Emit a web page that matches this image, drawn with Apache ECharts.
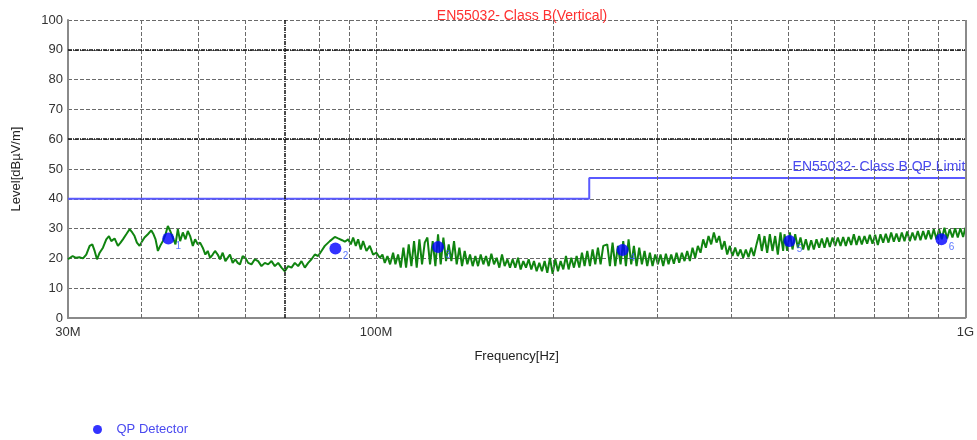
<!DOCTYPE html>
<html><head><meta charset="utf-8">
<script src="https://cdn.jsdelivr.net/npm/echarts@6/dist/echarts.min.js"></script>
<style>html,body{margin:0;padding:0;background:#fff}#c{width:977px;height:440px}</style>
</head><body><div id="c"></div>
<script>
const titleText = 'EN55032- Class B(Vertical)';
const limitName = 'EN55032- Class B QP Limit';
const xName = 'Frequency[Hz]';
const yName = 'Level[dBµV/m]';
const legendName = 'QP Detector';

const xTickValues = [30, 100, 1000];
const xTickLabels = ['30M', '100M', '1G'];
const xGridValues = [40, 50, 60, 80, 90, 100, 200, 300, 400, 500, 600, 700, 800, 900];
const xGridStrong = [70];
const yGridStrong = [60, 90];

const limitFreq = [30, 230, 230, 1000];
const limitLevel = [40, 40, 47, 47];

const qpFreq = [44.4, 85.3, 127.4, 262, 503, 911];
const qpLevel = [26.7, 23.3, 23.8, 22.8, 25.8, 26.4];
const qpLabels = ['1', '2', '3', '4', '5', '6'];

const freqA = [30.0,30.55,30.95,31.36,31.81,32.22,32.65,32.99,33.29,33.60,33.95,34.39,34.84,35.21,35.53,35.99,36.46,36.84,37.18,37.67,38.16,38.56,38.91,39.27,39.68,40.09,40.46,40.99,41.53,41.91,42.24,42.63,43.01,43.46,43.92,44.32,44.72,45.19,45.66,46.08,46.50,46.99,47.48,47.91,48.35,48.86,49.30,49.82,50.27,50.79,51.32,51.79,52.27,52.81,53.29,53.85,54.34,54.91,55.49,55.99,56.50,57.09,57.69,58.22,58.75,59.37,59.99];
const levelA = [19.7,20.8,20.2,20.4,20.0,21.3,24.2,24.7,22.5,19.7,21.9,23.6,26.4,27.5,25.8,26.7,24.2,25.3,26.4,28.1,29.8,28.7,27.5,25.3,24.2,25.8,27.0,28.1,29.4,28.1,26.4,22.5,24.2,25.8,28.1,30.9,29.2,27.0,24.7,29.8,25.8,28.7,26.4,29.2,27.5,24.2,26.4,24.7,25.3,23.6,21.3,22.5,20.2,21.3,22.5,21.3,19.7,21.9,19.1,20.2,21.3,18.5,19.7,18.5,18.0,20.8,20.2];

const freqB = [60.66,61.45,62.26,63.07,63.90,64.74,65.59,66.45,67.32,68.20,69.10,70.00,70.92,71.85,72.79,73.74,74.71,75.69,76.68,77.69,78.71,79.74,80.78,81.84,83.46,85.10,86.21,87.57,88.49,89.65,90.59,91.42,92.37,93.22,94.19,95.05,96.30,97.56,98.84,100.13,101.45,102.51,103.45,104.53,105.62,106.87,107.85,108.97,110.11,111.26,112.43,113.60,114.79,115.99,117.20,118.43,119.67,120.93];
const levelB = [18.5,18.0,19.7,19.1,17.4,18.5,18.0,19.1,17.4,18.5,16.9,15.7,17.4,16.9,18.5,17.4,19.1,16.9,18.5,19.7,21.3,20.8,22.5,24.2,25.8,27.2,26.7,26.1,25.6,26.4,24.7,27.0,24.2,26.4,23.0,25.8,22.5,24.2,21.3,21.9,20.2,21.3,18.5,20.8,18.0,21.9,18.0,21.3,16.9,23.6,16.9,24.7,17.4,25.8,16.9,26.4,18.0,25.3];

const freqC = [122.19,123.47,124.76,126.07,127.39,128.72,130.07,131.43,132.81,134.20,135.60,137.02,138.46,139.91,141.37,142.85,144.35,145.86,147.38,148.93,150.49,152.06,153.65,155.26,156.89,158.53,160.19,161.87,163.56,165.27,167.00,168.75,170.52,172.30,174.11,175.93,177.77,179.63,181.51,183.41,185.33,187.27,189.23,191.21,193.21,195.23,197.28,199.34,201.43,203.54,205.67,207.82,210.00,212.20,214.42,216.66,218.93,221.22,223.54,225.88,228.24,230.63,233.04,235.48,237.95,240.44,242.96];
const levelC = [27.0,18.0,25.8,17.4,28.1,18.0,27.0,19.1,24.7,19.1,25.8,18.0,23.6,17.4,22.5,18.0,21.3,17.4,20.8,17.4,21.3,18.0,20.8,17.4,21.6,18.0,20.2,16.9,21.3,17.4,19.7,16.9,19.7,16.9,20.2,16.3,19.1,16.9,19.7,16.3,19.1,15.7,18.5,15.7,19.1,15.2,20.2,14.8,19.7,15.7,19.1,16.3,20.8,16.3,20.2,16.9,20.8,16.9,21.9,17.4,22.5,17.4,23.0,18.0,23.6,18.0,24.2];

const freqD = [246.77,249.35,251.96,254.60,257.27,259.96,262.68,265.43,268.21,271.02,273.86,276.72,279.62,282.55,285.51,288.50,291.52,294.57,297.65,300.77,303.92,307.10,310.31,313.56,316.84,320.16,323.51,326.90,330.32,333.78,337.27,340.80,344.37,347.98,351.62,355.30,359.02,362.78,366.58,370.42,374.30,378.22,382.18,386.18,390.22,394.31,398.44,402.61,406.82,411.08,415.39,419.74,424.13,428.57,433.06,437.59,442.17,446.80,451.48,456.21,460.99,465.81,470.69,475.62,480.60,485.63,490.71];
const levelD = [24.7,17.4,25.3,17.4,24.2,18.0,25.8,17.4,26.4,18.0,24.2,17.4,23.6,18.0,22.5,17.4,21.9,17.4,21.3,18.0,21.3,17.4,21.6,18.0,21.3,18.2,21.9,18.5,21.9,19.1,22.5,19.1,23.6,20.2,24.2,21.9,26.4,23.6,27.5,24.7,28.7,25.3,27.5,23.0,25.8,21.3,24.2,20.8,23.6,20.8,23.0,20.2,23.0,20.4,23.6,20.8,24.7,28.1,22.5,27.5,21.9,28.1,22.5,27.5,21.3,28.7,22.5];

const freqE = [493.3,498.5,503.7,509.0,514.3,519.7,525.1,530.6,536.2,541.8,547.5,553.2,559.0,564.9,570.8,576.8,582.8,588.9,595.1,601.3,607.6,614.0,620.4,626.9,633.5,640.1,646.8,653.6,660.4,667.3,674.3,681.4,688.5,695.7,703.0,710.4,717.8,725.3,732.9,740.6,748.4,756.2,764.1,772.1,780.2,788.4,796.6,805.0,813.4,821.9,830.5,839.2,848.0,856.9,865.8,874.9,884.0,893.3,902.6,912.1,921.6,931.3,941.0,950.9,960.8,970.9,981.0,991.3,1000];
const levelE = [28.1,22.5,28.7,23.0,28.1,23.6,27.0,23.0,26.4,22.7,26.1,23.0,26.4,23.6,26.7,23.6,27.0,23.8,27.0,24.2,27.0,24.2,27.2,24.2,27.2,24.5,28.1,24.5,27.5,24.7,27.5,24.9,27.9,24.9,27.9,24.5,28.1,25.3,28.3,25.3,28.7,25.6,28.3,25.6,28.7,25.8,29.0,25.8,28.7,26.1,29.2,26.1,29.2,26.4,29.4,26.4,29.8,26.4,29.8,26.4,30.3,26.7,29.8,27.0,30.1,27.0,30.1,27.2,30.3];

function pairs(f, l) { const n = Math.min(f.length, l.length); const out = []; for (let i = 0; i < n; i++) out.push([f[i], l[i]]); return out; }
const traceData = [].concat(pairs(freqA, levelA), pairs(freqB, levelB), pairs(freqC, levelC), pairs(freqD, levelD), pairs(freqE, levelE));
const limitData = pairs(limitFreq, limitLevel);
const qpData = pairs(qpFreq, qpLevel).map((p, i) => ({ value: p, label: { formatter: qpLabels[i] } }));

const FONT = 'Liberation Sans, Arial, sans-serif';
const gridStyle = { color: '#6a6a6a', width: 1, type: [4, 2] };
const strongStyle = { color: '#111', width: 1.5, type: [4, 1, 1, 1] };

const chart = echarts.init(document.getElementById('c'), null, { renderer: 'canvas' });
chart.setOption({
  animation: false,
  backgroundColor: '#fff',
  title: { text: titleText, left: 517, top: 4, textAlign: 'center',
    textStyle: { color: '#ff3030', fontSize: 14, fontWeight: 'normal', fontFamily: FONT } },
  legend: { data: [legendName], left: 88, top: 418, icon: 'circle', itemWidth: 28, itemHeight: 9,
    textStyle: { color: '#4a4af0', fontSize: 13, fontFamily: FONT } },
  grid: { left: 68, right: 11, top: 20, bottom: 122 },
  xAxis: {
    type: 'log', logBase: 10, min: 30, max: 1000,
    name: xName, nameLocation: 'middle', nameGap: 32,
    nameTextStyle: { color: '#222', fontSize: 13, fontFamily: FONT },
    axisLine: { show: true, lineStyle: { color: '#8a8a8a', width: 2 } },
    axisTick: { show: false, customValues: xTickValues },
    splitLine: { show: false },
    minorSplitLine: { show: false },
    axisLabel: { customValues: xTickValues, margin: 8, color: '#333', fontSize: 13, fontFamily: FONT,
      formatter: v => { const i = xTickValues.findIndex(t => Math.abs(t - v) < 1e-6 * t); return i >= 0 ? xTickLabels[i] : ''; } }
  },
  yAxis: {
    type: 'value', min: 0, max: 100, interval: 10,
    name: yName, nameLocation: 'middle', nameGap: 45, nameRotate: 90,
    nameTextStyle: { color: '#222', fontSize: 13, fontFamily: FONT },
    axisLine: { show: true, lineStyle: { color: '#8a8a8a', width: 2 } },
    axisTick: { show: false },
    axisLabel: { margin: 5, color: '#333', fontSize: 13, fontFamily: FONT },
    splitLine: { show: true, lineStyle: gridStyle }
  },
  series: [
    {
      type: 'line', name: 'grid', silent: true, data: [], z: 1,
      markLine: {
        silent: true, symbol: 'none', label: { show: false }, animation: false,
        data: [].concat(
          xGridValues.map(v => ({ xAxis: v, lineStyle: gridStyle })),
          xGridStrong.map(v => ({ xAxis: v, lineStyle: strongStyle })),
          yGridStrong.map(v => ({ yAxis: v, lineStyle: strongStyle })),
          [{ xAxis: 1000, lineStyle: { color: '#8a8a8a', width: 2, type: 'solid' } }]
        )
      }
    },
    {
      type: 'line', name: 'trace', data: traceData, showSymbol: false, symbol: 'none', z: 3,
      sampling: false,
      lineStyle: { color: '#108410', width: 2 }, itemStyle: { color: '#108410' }
    },
    {
      type: 'line', name: limitName, data: limitData, showSymbol: false, symbol: 'none', z: 2,
      lineStyle: { color: '#5a5aff', width: 2 }, itemStyle: { color: '#5a5aff' },
      markPoint: {
        silent: true, animation: false,
        data: [{ coord: limitData[limitData.length - 1], symbol: 'circle', symbolSize: 0,
          label: { show: true, position: 'top', align: 'right', distance: 4, formatter: limitName,
            color: '#4a4af0', fontSize: 14, fontFamily: FONT } }]
      }
    },
    {
      type: 'scatter', name: legendName, data: qpData, symbol: 'circle', symbolSize: 12, z: 5,
      itemStyle: { color: '#0000ff' },
      label: { show: true, position: 'inside', offset: [10, 8], color: '#3355ff', fontSize: 10, fontFamily: FONT }
    }
  ]
});
</script></body></html>
